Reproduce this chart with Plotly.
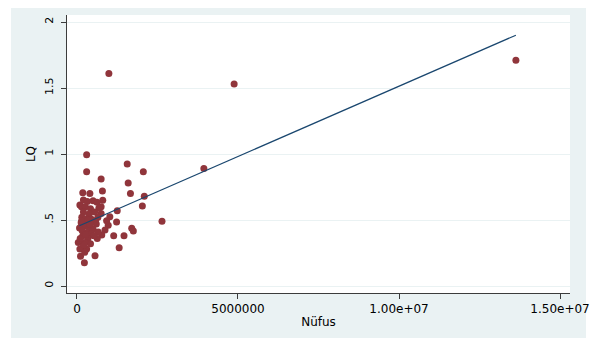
import plotly.graph_objects as go

# Data (Nüfus = population, LQ = location quotient)
nufus_m = [13.63, 4.88, 0.99, 3.94, 2.64, 2.09, 2.06, 2.03, 1.66, 1.59,
           1.56, 1.70, 1.75, 1.46, 1.31, 1.25, 1.23, 1.14, 1.02, 0.97,
           0.92, 0.87, 0.77, 0.79, 0.75, 0.80, 0.75, 0.75, 0.30, 0.30,
           0.18, 0.40, 0.09, 0.20, 0.32, 0.50, 0.62, 0.14, 0.26, 0.42,
           0.68, 0.55, 0.20, 0.38, 0.65, 0.15, 0.28, 0.45, 0.58, 0.13,
           0.29, 0.60, 0.22, 0.38, 0.08, 0.50, 0.66, 0.30, 0.45, 0.18,
           0.04, 0.34, 0.63, 0.12, 0.25, 0.42, 0.20, 0.30, 0.09, 0.56,
           0.11, 0.23, 0.16, 0.35, 0.10, 0.22, 0.52, 0.27, 0.14, 0.24,
           0.40]
lq = [1.71, 1.53, 1.61, 0.89, 0.49, 0.68, 0.866, 0.606, 0.70, 0.78,
      0.925, 0.437, 0.417, 0.38, 0.29, 0.57, 0.485, 0.38, 0.525, 0.46,
      0.495, 0.424, 0.386, 0.72, 0.81, 0.65, 0.60, 0.55, 0.995, 0.866,
      0.707, 0.70, 0.614, 0.652, 0.64, 0.646, 0.635, 0.60, 0.60, 0.585,
      0.59, 0.56, 0.56, 0.545, 0.52, 0.52, 0.51, 0.505, 0.495, 0.48,
      0.47, 0.47, 0.45, 0.44, 0.44, 0.43, 0.41, 0.40, 0.395, 0.38,
      0.33, 0.36, 0.36, 0.335, 0.33, 0.32, 0.30, 0.28, 0.28, 0.23,
      0.225, 0.177, 0.42, 0.50, 0.36, 0.31, 0.38, 0.39, 0.49, 0.255,
      0.47]
nufus = [v * 1e6 for v in nufus_m]

# Fitted values line endpoints
fit_x = [75000, 13630000]
fit_y = [0.457, 1.90]

y_tickvals = [0, 0.5, 1, 1.5, 2]
y_ticktext = ["0", ".5", "1", "1.5", "2"]
x_tickvals = [0, 5000000, 10000000, 15000000]
x_ticktext = ["0", "5000000", "1.00e+07", "1.50e+07"]

# The page body has an 8px default margin, so work in shifted coordinates
OFF = 8
W, H = 599 - OFF, 340 - OFF
L, R, T, B = 67 - OFF, 570 - OFF, 15 - OFF, 293 - OFF

fig = go.Figure()
fig.add_trace(go.Scatter(
    x=nufus, y=lq, mode="markers",
    marker=dict(color="rgb(144,53,59)", size=7, line=dict(width=0)),
    showlegend=False, hoverinfo="skip"))
fig.add_trace(go.Scatter(
    x=fit_x, y=fit_y, mode="lines",
    line=dict(color="rgb(26,71,111)", width=1.2),
    showlegend=False, hoverinfo="skip"))

pw, ph = R - L, B - T
def px(xp):
    return (xp - OFF - L) / pw
def py(yp):
    return (B - (yp - OFF)) / ph

shapes = []
# white outer border strips (reference pixel coordinates)
for (x0, x1, y0, y1) in [(0, 11, 0, 340), (586, 610, 0, 340), (0, 610, 0, 3), (0, 610, 338, 350)]:
    shapes.append(dict(type="rect", xref="paper", yref="paper",
                       x0=px(x0), x1=px(x1), y0=py(y1), y1=py(y0),
                       fillcolor="white", line=dict(width=0), layer="below"))
fig.update_layout(shapes=shapes)

font = dict(family="DejaVu Sans", color="black")
fig.update_layout(
    width=W, height=H,
    margin=dict(l=L, r=W - R, t=T, b=H - B, pad=0, autoexpand=False),
    paper_bgcolor="rgb(234,242,243)",
    plot_bgcolor="white",
    font=font,
    xaxis=dict(
        range=[-310000, 15310000],
        tickvals=x_tickvals, ticktext=x_ticktext,
        ticks="outside", ticklen=5, tickcolor="rgb(60,60,60)",
        showline=True, linecolor="rgb(60,60,60)", linewidth=1,
        showgrid=False, zeroline=False, automargin=False,
        tickfont=dict(size=12, family="DejaVu Sans"),
        title=dict(text="Nüfus", font=dict(size=12), standoff=2),
    ),
    yaxis=dict(
        range=[-0.053, 2.053],
        tickvals=y_tickvals, ticktext=y_ticktext,
        tickangle=-90,
        ticks="outside", ticklen=5, tickcolor="rgb(60,60,60)",
        showline=True, linecolor="rgb(60,60,60)", linewidth=1,
        showgrid=True, gridcolor="rgb(234,242,243)", gridwidth=1,
        zeroline=False, automargin=False,
        tickfont=dict(size=11, family="DejaVu Sans"),
        ticklabelstandoff=4,
        title=dict(text="LQ", font=dict(size=12), standoff=4),
    ),
)

fig.write_html("out.html")
